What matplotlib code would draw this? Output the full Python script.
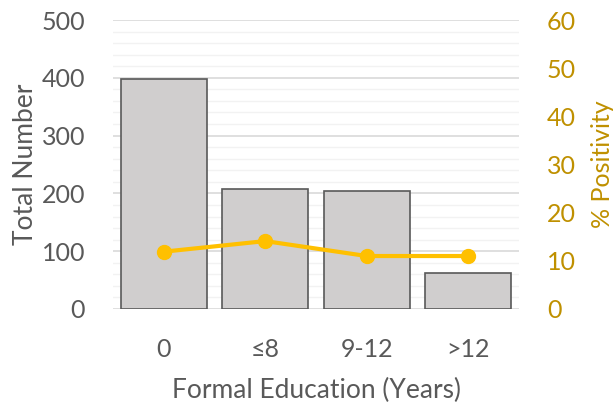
import matplotlib
matplotlib.use("Agg")
import matplotlib.pyplot as plt
from matplotlib.ticker import MultipleLocator

categories = ["0", "\u22648", "9-12", ">12"]
total_number = [398, 207, 205, 62]
positivity = [11.9, 14.1, 11.0, 11.0]

plt.rcParams['font.family'] = ['Lato', 'DejaVu Sans']
left_col = "#595959"
right_col = "#BF9000"

fig = plt.figure(figsize=(6.15, 4.08), dpi=100)
ax = fig.add_axes([113/615, 1-309/408, (519-113)/615, (309-20)/408])
x = range(len(categories))
ax.bar(x, total_number, width=0.85, color="#D0CECE", edgecolor="#595959", linewidth=1.2, zorder=3)
ax.set_ylim(0, 500)
ax.set_xlim(-0.5, 3.5)
ax.yaxis.set_major_locator(MultipleLocator(100))
ax.yaxis.set_minor_locator(MultipleLocator(20))
ax.grid(axis='y', which='major', color="#D9D9D9", linewidth=1.2, zorder=0)
ax.grid(axis='y', which='minor', color="#F2F2F2", linewidth=1.0, zorder=0)
ax.tick_params(axis='y', which='both', length=0, labelsize=18, colors=left_col, pad=20)
ax.tick_params(axis='x', which='both', length=0, labelsize=18, colors=left_col, pad=21)
ax.set_xticks(list(x))
ax.set_xticklabels(categories)
for s in ax.spines.values():
    s.set_visible(False)
ax.set_ylabel("Total Number", fontsize=19, color=left_col, va='center', ha='center')
ax.yaxis.set_label_coords((26-113)/406, 0.5)
ax.set_xlabel("Formal Education (Years)", fontsize=19, color=left_col, va='center', ha='center')
ax.xaxis.set_label_coords(0.5, (309-390)/289)

ax2 = ax.twinx()
ax2.plot(list(x), positivity, color="#FFC000", linewidth=3, marker='o', markersize=10, zorder=4)
ax2.set_ylim(0, 60)
ax2.yaxis.set_major_locator(MultipleLocator(10))
ax2.tick_params(axis='y', length=0, labelsize=18, colors=right_col, pad=20)
for s in ax2.spines.values():
    s.set_visible(False)
ax2.set_ylabel("% Positivity", fontsize=18, color=right_col, va='center', ha='center')
ax2.yaxis.set_label_coords((603-113)/406, 0.5)

fig.savefig("out.png", dpi=100)
